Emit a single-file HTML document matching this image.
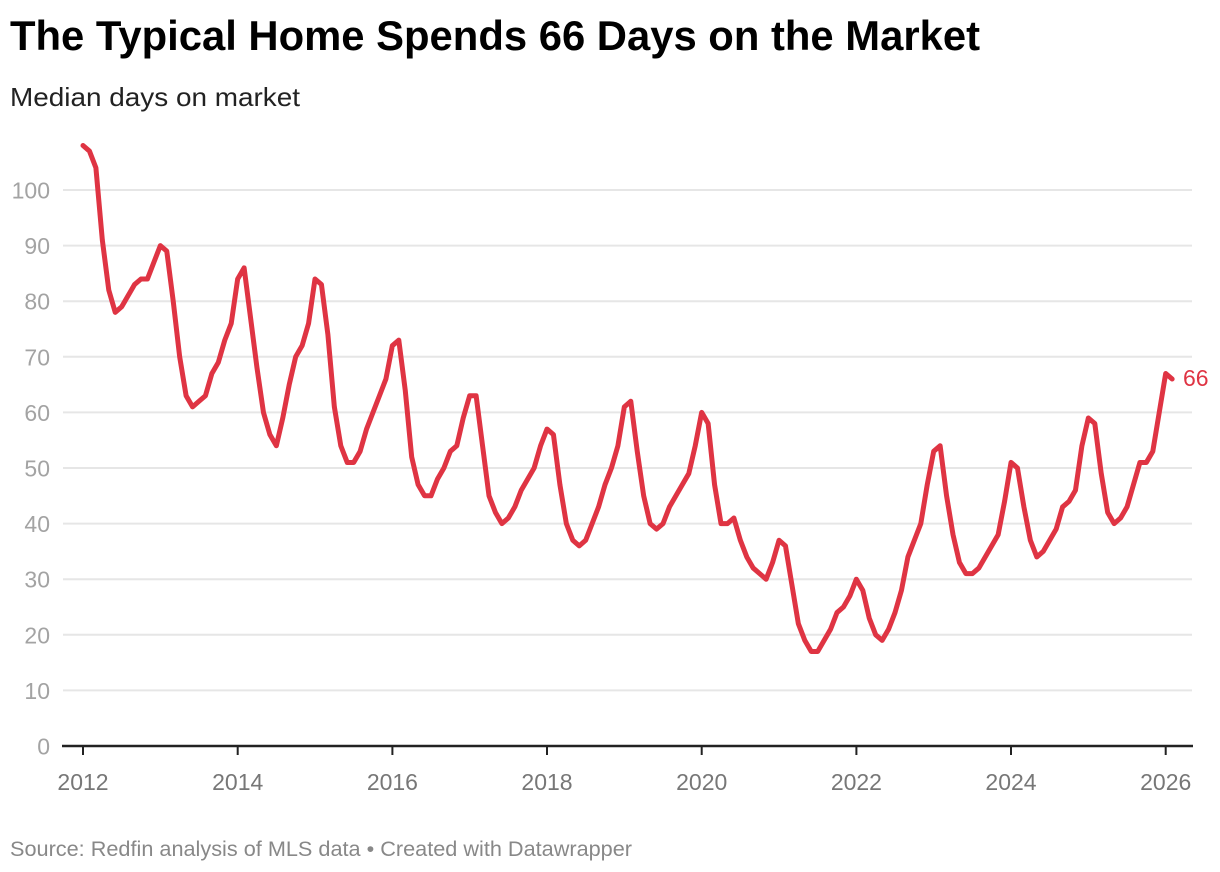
<!DOCTYPE html>
<html>
<head>
<meta charset="utf-8">
<style>
html,body{margin:0;padding:0;background:#fff;}
svg{display:block;}
</style>
</head>
<body>
<svg width="1220" height="872" viewBox="0 0 1220 872" xmlns="http://www.w3.org/2000/svg">
<rect width="1220" height="872" fill="#fff"/>
<text x="10" y="50" font-family="Liberation Sans, sans-serif" font-weight="bold" font-size="42" fill="#000" textLength="970" lengthAdjust="spacingAndGlyphs">The Typical Home Spends 66 Days on the Market</text>
<text x="10" y="106" font-family="Liberation Sans, sans-serif" font-size="26" fill="#222" textLength="290" lengthAdjust="spacingAndGlyphs">Median days on market</text>

<g stroke="#e6e6e6" stroke-width="2">
<line x1="63" x2="1192" y1="190" y2="190"/>
<line x1="63" x2="1192" y1="245.6" y2="245.6"/>
<line x1="63" x2="1192" y1="301.2" y2="301.2"/>
<line x1="63" x2="1192" y1="356.8" y2="356.8"/>
<line x1="63" x2="1192" y1="412.4" y2="412.4"/>
<line x1="63" x2="1192" y1="468" y2="468"/>
<line x1="63" x2="1192" y1="523.6" y2="523.6"/>
<line x1="63" x2="1192" y1="579.2" y2="579.2"/>
<line x1="63" x2="1192" y1="634.8" y2="634.8"/>
<line x1="63" x2="1192" y1="690.4" y2="690.4"/>
</g>

<g font-family="Liberation Sans, sans-serif" font-size="23" fill="#a3a3a3" text-anchor="end">
<text x="50" y="198.5">100</text>
<text x="50" y="254.1">90</text>
<text x="50" y="309.7">80</text>
<text x="50" y="365.3">70</text>
<text x="50" y="420.9">60</text>
<text x="50" y="476.5">50</text>
<text x="50" y="532.1">40</text>
<text x="50" y="587.7">30</text>
<text x="50" y="643.3">20</text>
<text x="50" y="698.9">10</text>
<text x="50" y="754.5">0</text>
</g>

<line x1="62" x2="1193" y1="746" y2="746" stroke="#222" stroke-width="2.5"/>
<g stroke="#222" stroke-width="2">
<line x1="83" x2="83" y1="746" y2="755"/>
<line x1="237.7" x2="237.7" y1="746" y2="755"/>
<line x1="392.4" x2="392.4" y1="746" y2="755"/>
<line x1="547" x2="547" y1="746" y2="755"/>
<line x1="701.7" x2="701.7" y1="746" y2="755"/>
<line x1="856.4" x2="856.4" y1="746" y2="755"/>
<line x1="1011" x2="1011" y1="746" y2="755"/>
<line x1="1165.7" x2="1165.7" y1="746" y2="755"/>
</g>
<g font-family="Liberation Sans, sans-serif" font-size="23" fill="#777" text-anchor="middle">
<text x="83" y="790">2012</text>
<text x="237.7" y="790">2014</text>
<text x="392.4" y="790">2016</text>
<text x="547" y="790">2018</text>
<text x="701.7" y="790">2020</text>
<text x="856.4" y="790">2022</text>
<text x="1011" y="790">2024</text>
<text x="1165.7" y="790">2026</text>
</g>

<g transform="translate(83,746) scale(6.4446,-5.56)">
<polyline fill="none" stroke="#df3443" stroke-width="5" stroke-linejoin="round" stroke-linecap="round" vector-effect="non-scaling-stroke" points="
0,108 1,107 2,104 3,91 4,82 5,78 6,79 7,81 8,83 9,84 10,84 11,87
12,90 13,89 14,80 15,70 16,63 17,61 18,62 19,63 20,67 21,69 22,73 23,76
24,84 25,86 26,77 27,68 28,60 29,56 30,54 31,59 32,65 33,70 34,72 35,76
36,84 37,83 38,74 39,61 40,54 41,51 42,51 43,53 44,57 45,60 46,63 47,66
48,72 49,73 50,64 51,52 52,47 53,45 54,45 55,48 56,50 57,53 58,54 59,59
60,63 61,63 62,54 63,45 64,42 65,40 66,41 67,43 68,46 69,48 70,50 71,54
72,57 73,56 74,47 75,40 76,37 77,36 78,37 79,40 80,43 81,47 82,50 83,54
84,61 85,62 86,53 87,45 88,40 89,39 90,40 91,43 92,45 93,47 94,49 95,54
96,60 97,58 98,47 99,40 100,40 101,41 102,37 103,34 104,32 105,31 106,30 107,33
108,37 109,36 110,29 111,22 112,19 113,17 114,17 115,19 116,21 117,24 118,25 119,27
120,30 121,28 122,23 123,20 124,19 125,21 126,24 127,28 128,34 129,37 130,40 131,47
132,53 133,54 134,45 135,38 136,33 137,31 138,31 139,32 140,34 141,36 142,38 143,44
144,51 145,50 146,43 147,37 148,34 149,35 150,37 151,39 152,43 153,44 154,46 155,54
156,59 157,58 158,49 159,42 160,40 161,41 162,43 163,47 164,51 165,51 166,53 167,60
168,67 169,66"/>
</g>
<text x="1183" y="386" font-family="Liberation Sans, sans-serif" font-size="23" fill="#df3443">66</text>

<text x="10" y="856" font-family="Liberation Sans, sans-serif" font-size="21" fill="#888" textLength="622" lengthAdjust="spacingAndGlyphs">Source: Redfin analysis of MLS data • Created with Datawrapper</text>
</svg>
</body>
</html>
